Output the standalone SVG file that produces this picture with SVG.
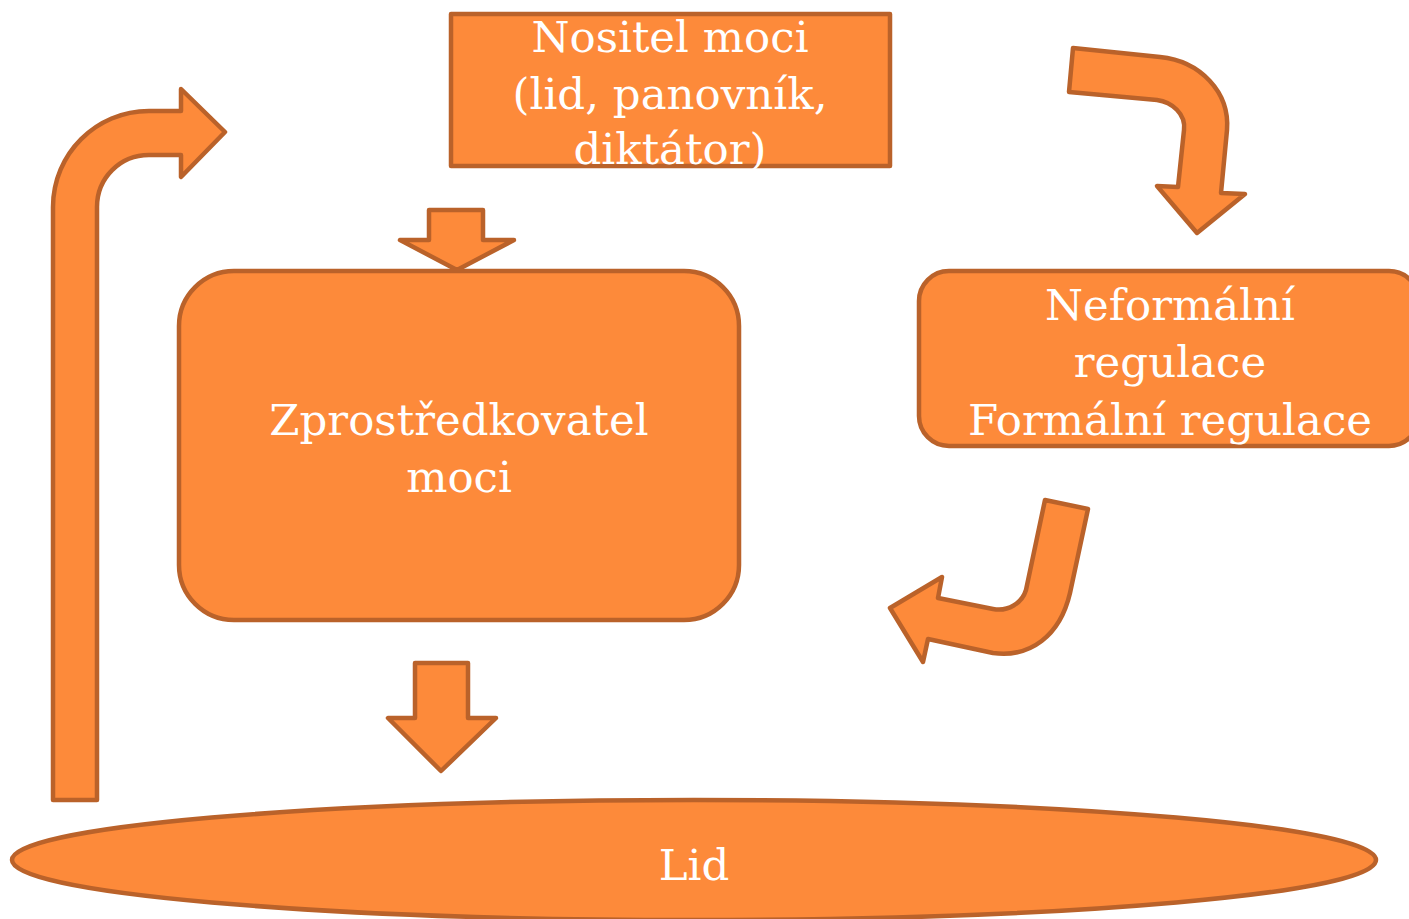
<svg xmlns="http://www.w3.org/2000/svg" width="1409" height="919" viewBox="0 0 1409 919">
<style>
.s{fill:#FD8A3A;stroke:#BA622A;stroke-width:4.5;stroke-linejoin:round}
.t{font-family:"DejaVu Serif","Liberation Serif",serif;font-size:43.5px;fill:#FFFFFF;text-anchor:middle}
</style>
<rect width="1409" height="919" fill="#FFFFFF"/>
<g id="connectors">
<path class="s" d="M53,800 L53,207 C53,154 96,111 149,111 L181,111 L181,89 L225,132 L181,177 L181,155 L149,155 C120,155 97,178 97,207 L97,800 Z"/>
<path class="s" d="M1073,48 L1160,57 C1200,61 1230,92 1227,130 L1221,193 L1245,194 L1197,233 L1157,186 L1178,187 L1184,130 C1186,114 1172,102 1157,100 L1069,92 Z"/>
<path class="s" d="M1045,500 L1088,509 L1070,593 C1060,636 1030,658 993,653 L928,639 L923,662 L890,608 L942,577 L938,598 L993,609 C1008,612 1022,603 1026,590 Z"/>
<path class="s" d="M429,210 L483,210 L483,240 L514,240 L457,270 L400,240 L429,240 Z"/>
<path class="s" d="M415,663 L468,663 L468,718 L496,718 L441,771 L388,718 L415,718 Z"/>
</g>
<g id="nositel">
<rect class="s" x="451" y="14" width="439" height="152"/>
<text class="t" x="670" y="52">Nositel moci</text>
<text class="t" x="670" y="109">(lid, panovník,</text>
<text class="t" x="670" y="164">diktátor)</text>
</g>
<g id="zprostredkovatel">
<rect class="s" x="179" y="271" width="560" height="349" rx="55" ry="55"/>
<text class="t" x="459" y="435">Zprostředkovatel</text>
<text class="t" x="459" y="492">moci</text>
</g>
<g id="regulace">
<rect class="s" x="919" y="271" width="500" height="175" rx="30" ry="30"/>
<text class="t" x="1170" y="320">Neformální</text>
<text class="t" x="1170" y="377">regulace</text>
<text class="t" x="1170" y="435">Formální regulace</text>
</g>
<g id="lid">
<ellipse class="s" cx="694" cy="860" rx="682" ry="60"/>
<text class="t" x="694" y="880">Lid</text>
</g>
</svg>
